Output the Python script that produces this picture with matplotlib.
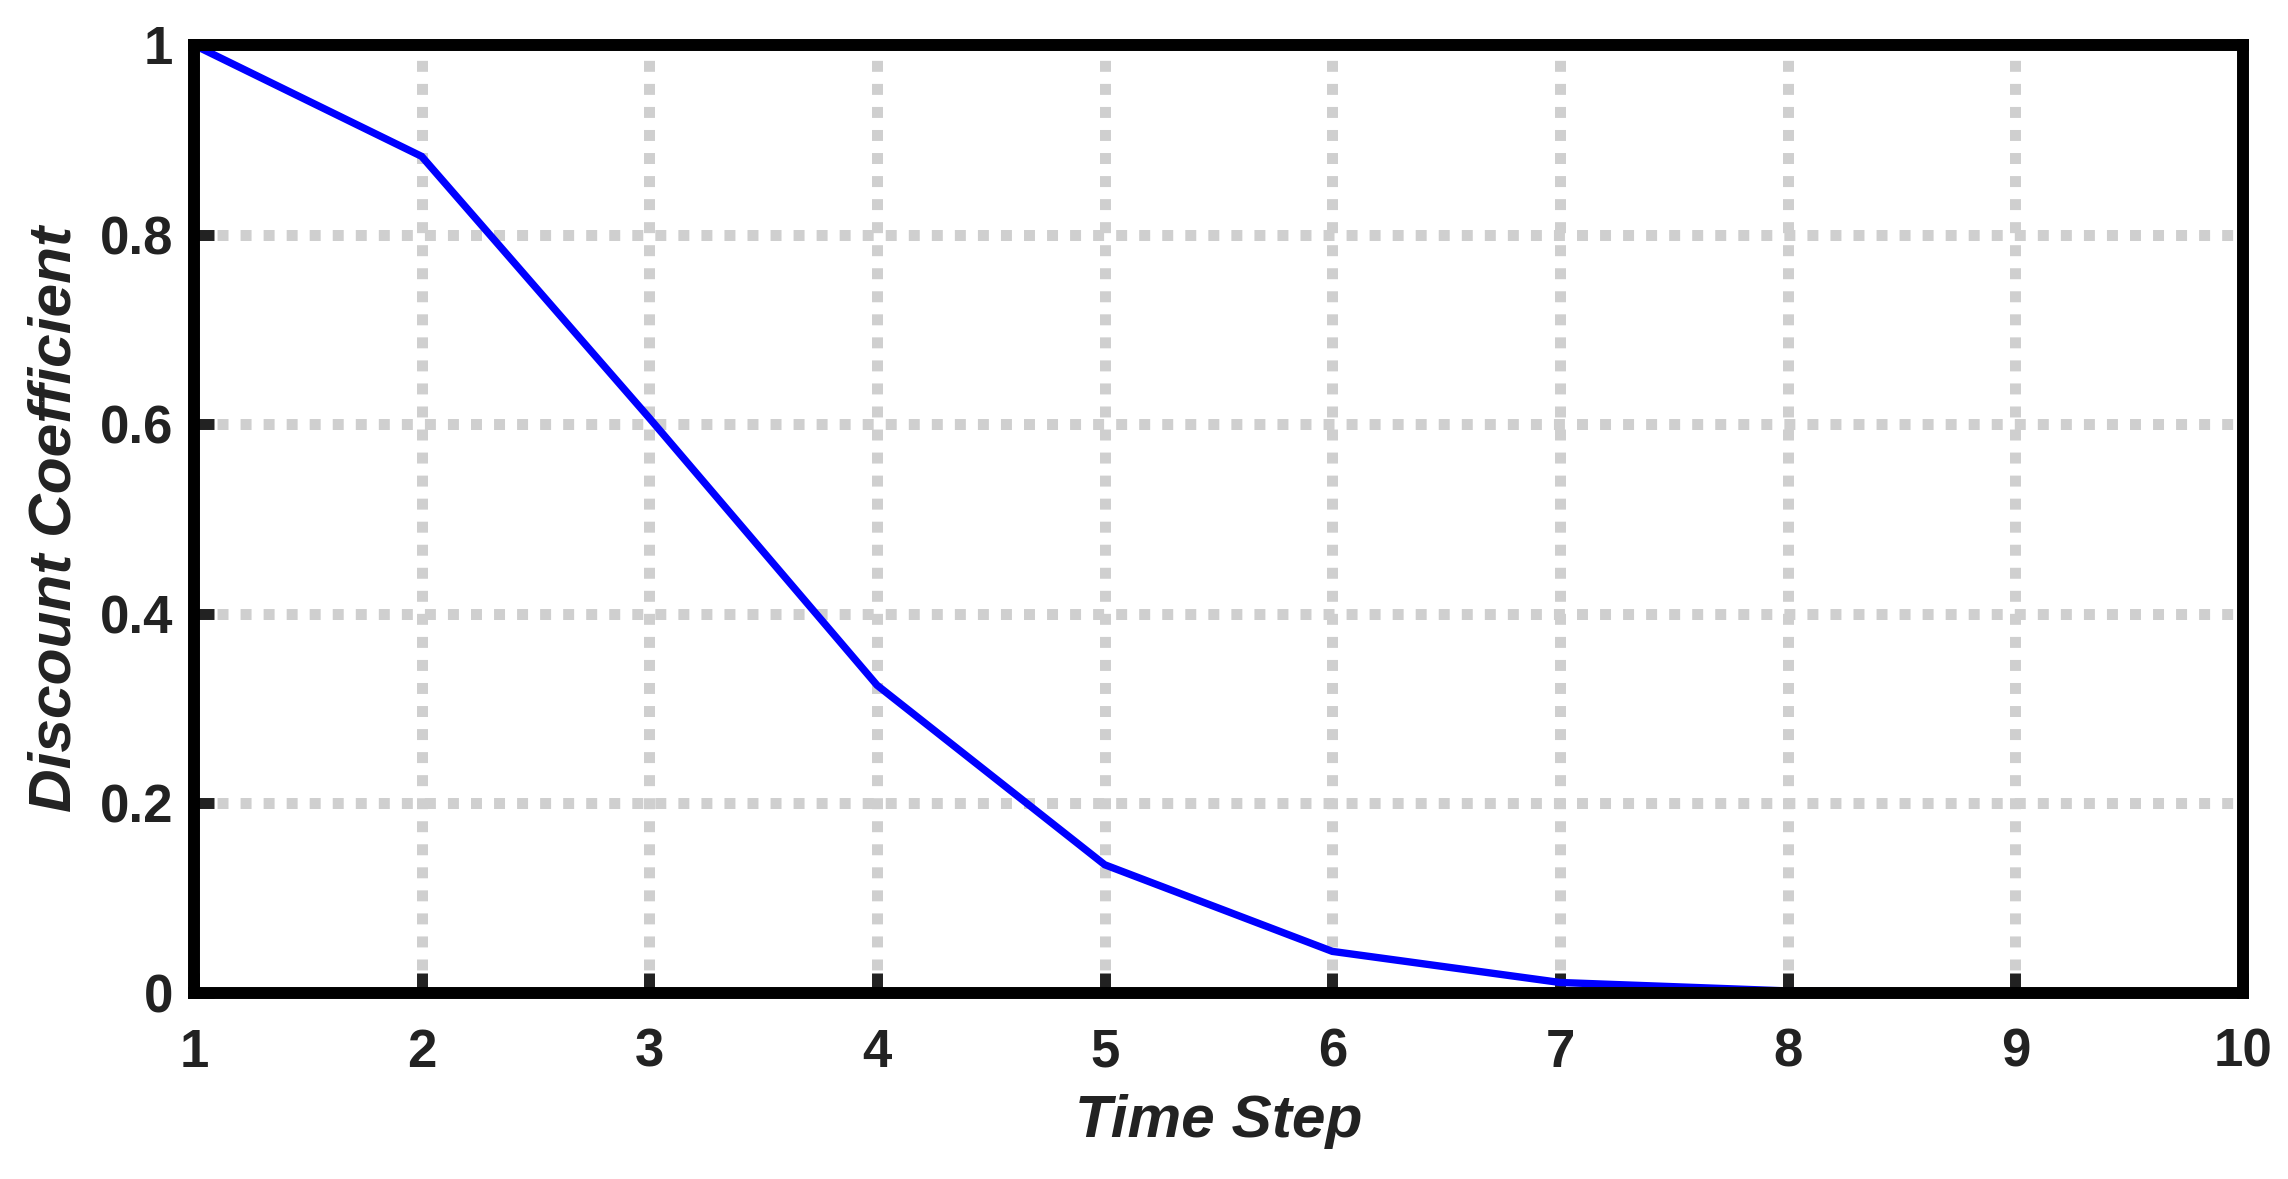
import matplotlib
matplotlib.use("Agg")
import matplotlib.pyplot as plt

time_step = [1, 2, 3, 4, 5, 6, 7, 8, 9, 10]
discount = [1.0, 0.8825, 0.6065, 0.3247, 0.1353, 0.0439, 0.0111, 0.0022, 0.0003, 0.0000]

x_ticks = [1, 2, 3, 4, 5, 6, 7, 8, 9, 10]
x_tick_labels = ["1", "2", "3", "4", "5", "6", "7", "8", "9", "10"]
y_ticks = [0, 0.2, 0.4, 0.6, 0.8, 1.0]
y_tick_labels = ["0", "0.2", "0.4", "0.6", "0.8", "1"]

DPI = 100
fig = plt.figure(figsize=(22.88, 11.79), dpi=DPI)
ax = fig.add_axes([194/2288, 1-993/1179, (2243-194)/2288, (993-45)/1179])

ax.plot(time_step, discount, color="#0000ff", lw=5.3, zorder=3, solid_joinstyle="miter")

ax.set_xlim(1, 10)
ax.set_ylim(0, 1)
ax.set_xticks(x_ticks)
ax.set_xticklabels(x_tick_labels)
ax.set_yticks(y_ticks)
ax.set_yticklabels(y_tick_labels)

ax.grid(True, color="#cfcfcf", lw=7.9, linestyle=(0, (1, 1.1)), dash_capstyle="butt")
ax.set_axisbelow(True)

for s in ax.spines.values():
    s.set_linewidth(8.6)
    s.set_color("black")
    s.set_zorder(4)

font = "Liberation Sans"
ax.tick_params(direction="in", length=14.4, width=7.9, color="#222222",
               labelcolor="#222222", labelsize=38, top=False, right=False)
ax.tick_params(axis="x", pad=25)
ax.tick_params(axis="y", pad=15)
for lab in ax.get_xticklabels() + ax.get_yticklabels():
    lab.set_fontfamily(font)
    lab.set_fontweight("bold")

ax.set_xlabel("Time Step", fontsize=43.5, fontweight="bold", fontstyle="italic",
              family=font, color="#222222", labelpad=12)
ax.set_ylabel("Discount Coefficient", fontsize=43.5, fontweight="bold", fontstyle="italic",
              family=font, color="#222222", labelpad=12)

fig.savefig("out.png", dpi=DPI)
